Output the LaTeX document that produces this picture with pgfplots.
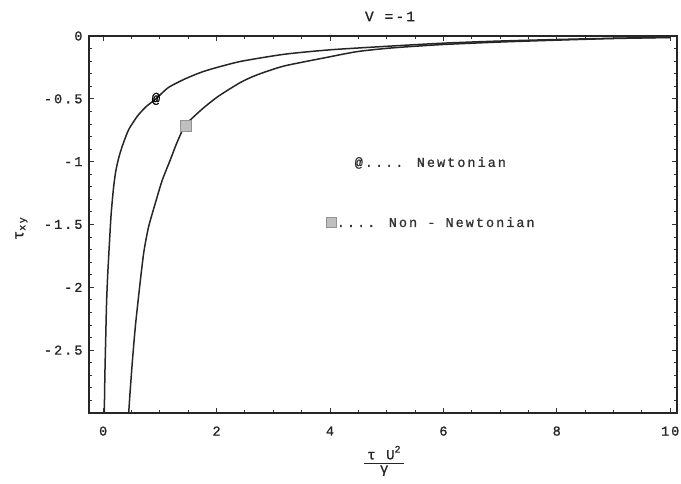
\documentclass[border=0pt]{standalone}
\usepackage{fontspec}
\setmainfont{Liberation Mono}
\newfontfamily\mono[LetterSpace=15, FakeBold=1.2]{Liberation Mono}
\usepackage{pgfplots}
\pgfplotsset{compat=1.18}

% Shear stress against the dimensionless time, V = -1
\pgfplotstableread{
x      y
0.02  -3.00
0.03  -2.70
0.045 -2.40
0.06  -2.12
0.08  -1.90
0.11  -1.65
0.14  -1.42
0.18  -1.22
0.22  -1.08
0.28  -0.96
0.35  -0.86
0.45  -0.745
0.60  -0.640
0.75  -0.565
0.93  -0.50
1.15  -0.41
1.45  -0.34
1.75  -0.285
2.05  -0.245
2.45  -0.200
3.20  -0.145
4.00  -0.110
5.00  -0.082
6.00  -0.057
7.00  -0.040
8.00  -0.028
9.00  -0.018
10.00 -0.010
}\newtonian

\pgfplotstableread{
x      y
0.45  -3.00
0.48  -2.80
0.52  -2.56
0.57  -2.30
0.63  -2.05
0.67  -1.89
0.72  -1.71
0.80  -1.52
0.92  -1.33
1.04  -1.15
1.18  -0.99
1.30  -0.85
1.45  -0.71
1.75  -0.58
2.03  -0.48
2.42  -0.37
2.71  -0.31
3.18  -0.24
3.89  -0.175
4.47  -0.125
5.06  -0.096
5.94  -0.069
7.00  -0.048
8.00  -0.033
9.00  -0.020
10.00 -0.012
}\nonnewtonian

\begin{document}
\begin{tikzpicture}
\begin{axis}[
  scale only axis,
  width=588pt, height=377pt,
  xmin=-0.25, xmax=10.12,
  ymin=-3, ymax=0,
  axis line style={black!85, line width=1.3pt},
  tick align=inside,
  xtick pos=both, ytick pos=both,
  xticklabel pos=lower, yticklabel pos=left,
  xtick={0,2,4,6,8,10},
  xticklabels={0,2,4,6,8,10},
  minor x tick num=3,
  ytick={-2.5,-2,-1.5,-1,-0.5,0},
  yticklabels={-2.5,-2,-1.5,-1,-0.5,0},
  minor ytick={-2.9,-2.8,-2.7,-2.6,-2.4,-2.3,-2.2,-2.1,-1.9,-1.8,-1.7,-1.6,-1.4,-1.3,-1.2,-1.1,-0.9,-0.8,-0.7,-0.6,-0.4,-0.3,-0.2,-0.1},
  major tick length=5pt, minor tick length=3pt,
  every tick/.style={black!80, line width=0.9pt},
  tick label style={font=\mono\fontsize{13.5}{15}\selectfont, text=black!85},
  xticklabel style={yshift=-10pt},
  yticklabel style={xshift=-3pt},
  title={\mono\fontsize{14.5}{16}\selectfont V =-1},
  title style={at={(axis description cs:0.512,1.036)}, anchor=center, text=black!85},
  xlabel={$\displaystyle\frac{\mbox{\mono\fontsize{14}{16}\selectfont\hspace{3pt}τ U}^{\mbox{\mono\fontsize{10}{11}\selectfont 2}}\hspace{3pt}}{\mbox{\mono\fontsize{14}{16}\selectfont γ}}$},
  xlabel style={at={(axis description cs:0.502,-0.127)}, anchor=center, text=black!85},
  ylabel={\mono\fontsize{15}{17}\selectfont τ$_{\mbox{\mono\fontsize{10}{11}\selectfont xy}}$},
  ylabel style={at={(axis description cs:-0.115,0.49)}, anchor=center, rotate=0, text=black!85},
]
% Newtonian fluid
\addplot[black!85, line width=1.5pt, smooth, tension=0.4] table[x=x, y=y] {\newtonian};
% Non-Newtonian fluid
\addplot[black!85, line width=1.5pt, smooth, tension=0.4] table[x=x, y=y] {\nonnewtonian};

% curve markers
\addplot[only marks, black!75, mark=text, text mark={\mono\fontsize{14}{16}\selectfont @}]
  coordinates {(0.93,-0.5)};
\addplot[only marks, mark=square*, mark size=5.5pt, draw=gray!85, fill=gray!50]
  coordinates {(1.45,-0.71)};

% key
\node[anchor=center, text=black!80, font=\mono\fontsize{13.5}{15}\selectfont]
  at (axis cs:5.77,-1.01) {@.... Newtonian};
\node[anchor=center, text=black!80, font=\mono\fontsize{13.5}{15}\selectfont]
  at (axis cs:5.77,-1.48) {{\setlength\fboxsep{0pt}\fcolorbox{gray!85}{gray!50}{\rule{0pt}{10pt}\hspace{10pt}}}.... Non - Newtonian};
\end{axis}
\pgfresetboundingbox
\path (current axis.south west) ++(-89pt,-71pt) rectangle ++(681pt,484pt);
\end{tikzpicture}
\end{document}
